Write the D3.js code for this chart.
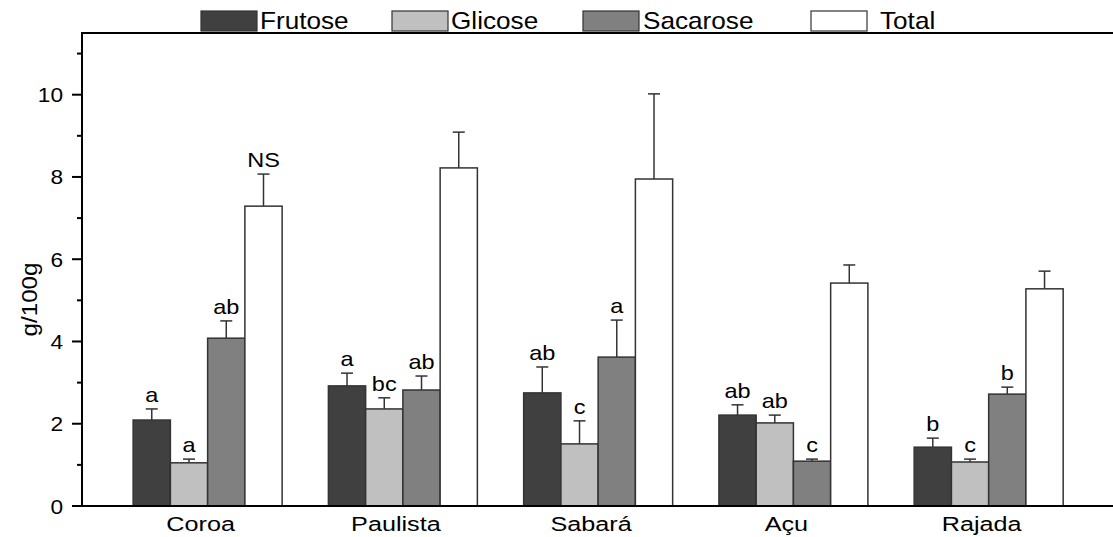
<!DOCTYPE html>
<html><head><meta charset="utf-8">
<script src="https://cdn.jsdelivr.net/npm/d3@7"></script>
<style>body{margin:0;background:#fff}svg{display:block}text{font-family:"Liberation Sans",Arial,sans-serif;fill:#000}</style>
</head><body><svg id="c" width="1113" height="537"></svg>
<script>
const categories = ["Coroa","Paulista","Sabará","Açu","Rajada"];
const seriesNames = ["Frutose","Glicose","Sacarose","Total"];
const seriesColors = ["#404040","#c0c0c0","#808080","#ffffff"];
const frutose = [2.09,2.92,2.75,2.21,1.43];
const frutoseErr = [0.27,0.31,0.63,0.25,0.22];
const glicose = [1.05,2.36,1.51,2.02,1.07];
const glicoseErr = [0.09,0.27,0.56,0.19,0.07];
const sacarose = [4.08,2.82,3.62,1.09,2.72];
const sacaroseErr = [0.42,0.34,0.90,0.05,0.17];
const total = [7.29,8.22,7.95,5.42,5.28];
const totalErr = [0.78,0.87,2.07,0.44,0.43];
const frutoseLetters = ["a","a","ab","ab","b"];
const glicoseLetters = ["a","bc","c","ab","c"];
const sacaroseLetters = ["ab","ab","a","c","b"];
const totalLetters = ["NS","","","",""];
const yMajorTicks = [0,2,4,6,8,10];
const yMinorTicks = [1,3,5,7,9,11];
const yTitle = "g/100g";

const values = [frutose, glicose, sacarose, total];
const errs = [frutoseErr, glicoseErr, sacaroseErr, totalErr];
const letters = [frutoseLetters, glicoseLetters, sacaroseLetters, totalLetters];

const svg = d3.select("#c");
const L = 82, R = 1116, T = 33, B = 506;
const y = d3.scaleLinear().domain([0, 11.5]).range([B, T]);
const x0 = d3.scaleBand().domain(categories).range([110, 1086.3]).paddingInner(0.237).paddingOuter(0.1185);
const x1 = d3.scaleBand().domain(seriesNames).range([0, x0.bandwidth()]);

function stext(g, x, yy, str, size, sx, anchor, rot) {
  return g.append("text")
    .attr("transform", `translate(${x},${yy})` + (rot ? ` rotate(${rot})` : "") + ` scale(${sx},1)`)
    .attr("font-size", size).attr("text-anchor", anchor || "middle").text(str);
}

// bars
const gBars = svg.append("g");
seriesNames.forEach((s, si) => {
  categories.forEach((c, ci) => {
    const v = values[si][ci], e = errs[si][ci];
    const bx = x0(c) + x1(s), bw = x1.bandwidth();
    const cx = bx + bw / 2;
    gBars.append("line").attr("x1", cx).attr("x2", cx).attr("y1", y(v)).attr("y2", y(v + e))
      .attr("stroke", "#333").attr("stroke-width", 1.5);
    gBars.append("line").attr("x1", cx - 6).attr("x2", cx + 6).attr("y1", y(v + e)).attr("y2", y(v + e))
      .attr("stroke", "#333").attr("stroke-width", 1.5);
    gBars.append("rect").attr("x", bx).attr("y", y(v)).attr("width", bw).attr("height", y(0) - y(v))
      .attr("fill", seriesColors[si]).attr("stroke", "#333").attr("stroke-width", 1.5);
    const lab = letters[si][ci];
    if (lab) stext(gBars, cx, y(v + e) - 7, lab, 21, 1.12);
  });
});

// frame
svg.append("line").attr("x1", L).attr("x2", R).attr("y1", T).attr("y2", T).attr("stroke", "#000").attr("stroke-width", 2);
svg.append("line").attr("x1", L - 1).attr("x2", R).attr("y1", B).attr("y2", B).attr("stroke", "#000").attr("stroke-width", 2);
svg.append("line").attr("x1", L).attr("x2", L).attr("y1", T - 1).attr("y2", B + 1).attr("stroke", "#000").attr("stroke-width", 2);

// y ticks
const gy = svg.append("g");
yMajorTicks.forEach(t => {
  gy.append("line").attr("x1", L - 10).attr("x2", L).attr("y1", y(t)).attr("y2", y(t)).attr("stroke", "#000").attr("stroke-width", 2);
  stext(gy, L - 19, y(t) + 7.5, String(t), 21, 1.08, "end");
});
yMinorTicks.forEach(t => {
  gy.append("line").attr("x1", L - 5).attr("x2", L).attr("y1", y(t)).attr("y2", y(t)).attr("stroke", "#000").attr("stroke-width", 2);
});
stext(svg, 37, (T + B) / 2 + 30, yTitle, 22, 1.1, "middle", -90);

// x labels
categories.forEach(c => {
  stext(svg, x0(c) + x0.bandwidth() / 2 - 7, 531, c, 21, 1.2);
});

// legend
const legendX = [201, 392, 583, 811];
const legendGap = [3, 3, 4, 13];
seriesNames.forEach((s, i) => {
  svg.append("rect").attr("x", legendX[i]).attr("y", 11).attr("width", 56).attr("height", 20)
    .attr("fill", seriesColors[i]).attr("stroke", "#333").attr("stroke-width", 1.2);
  stext(svg, legendX[i] + 56 + legendGap[i], 29, s, 24, 1.09, "start");
});
</script></body></html>
